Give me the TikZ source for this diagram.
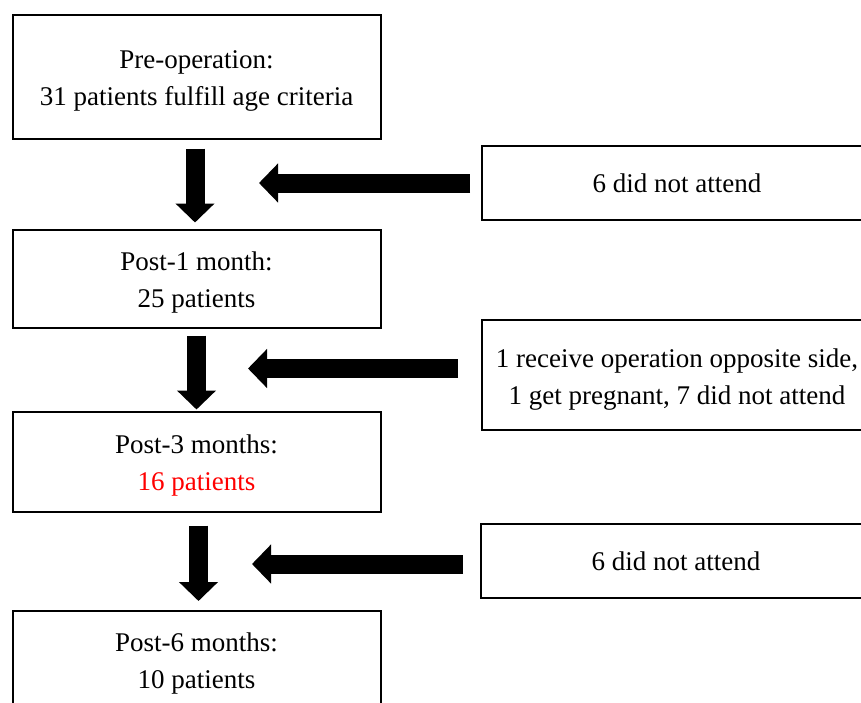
\documentclass[tikz,border=0pt]{standalone}
\usepackage{fontspec}
\setmainfont{Liberation Serif}
\usepackage{xcolor}
\usetikzlibrary{arrows.meta}
\definecolor{hired}{RGB}{255,0,0}
\newcommand{\tp}{\rule{0pt}{27pt}}

\begin{document}
\begin{tikzpicture}[x=1pt, y=-1pt,
  block/.style={rectangle, draw, line width=2pt, inner sep=0pt, align=center,
    font=\fontsize{27}{37}\selectfont, minimum width=368pt},
  side/.style={block, minimum width=390pt},
  fat/.style={line width=19pt, -{Triangle[width=38pt,length=19pt]}}]

  \useasboundingbox (0,0) rectangle (861,702);
  \clip (0,0) rectangle (861,702);

  \node[block, minimum height=124pt] (a) at (196.5,76.5) {\tp Pre-operation:\\31 patients fulfill age criteria};
  \node[block, minimum height=98pt] (b) at (196.5,278.5) {\tp Post-1 month:\\25 patients};
  \node[block, minimum height=100pt] (c) at (196.5,461.5) {\tp Post-3 months:\\\textcolor{hired}{16 patients}};
  \node[block, minimum height=96pt] (d) at (196.5,659) {\tp Post-6 months:\\10 patients};

  \node[side, minimum height=74pt] (e) at (677,183) {6 did not attend};
  \node[side, minimum height=110pt] (f) at (677,375) {\tp 1 receive operation opposite side,\\1 get pregnant, 7 did not attend};
  \node[side, minimum height=74pt] (g) at (676,561) {6 did not attend};

  \coordinate (t1) at (259,183);
  \coordinate (t2) at (248,368.5);
  \coordinate (t3) at (252,564);

  \draw[fat, shorten <=9pt, shorten >=6pt] ([xshift=-1.5pt]a.south) -- ([xshift=-1.5pt]b.north);
  \draw[fat, shorten <=7pt, shorten >=1pt] ([xshift=0pt]b.south) -- ([xshift=0pt]c.north);
  \draw[fat, shorten <=13pt, shorten >=9pt] ([xshift=2pt]c.south) -- ([xshift=2pt]d.north);

  \draw[fat, shorten <=11pt] (e.west) -- (t1);
  \draw[fat, shorten <=23pt] (f.west |- t2) -- (t2);
  \draw[fat, shorten <=17pt] (g.west |- t3) -- (t3);

\end{tikzpicture}
\end{document}
